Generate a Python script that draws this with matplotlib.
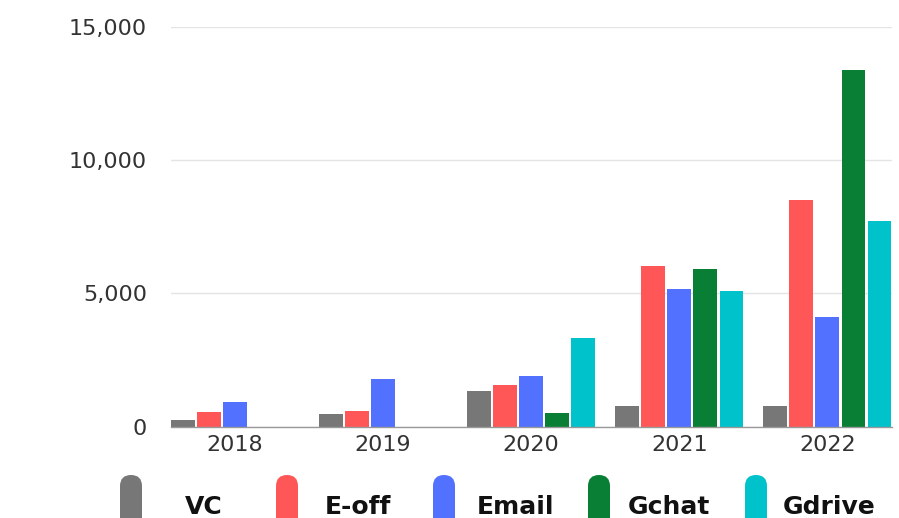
import matplotlib
matplotlib.use('Agg')
import matplotlib.pyplot as plt
from matplotlib.patches import FancyBboxPatch
from matplotlib.transforms import IdentityTransform
from matplotlib.ticker import FuncFormatter
import numpy as np

years = ['2018', '2019', '2020', '2021', '2022']
series = ['VC', 'E-off', 'Email', 'Gchat', 'Gdrive']
vc = [250, 465, 1350, 765, 790]
eoff = [540, 590, 1550, 6025, 8490]
email = [925, 1775, 1915, 5160, 4125]
gchat = [0, 0, 500, 5910, 13375]
gdrive = [0, 0, 3315, 5100, 7725]
colors = ['#777777', '#ff5757', '#5271ff', '#087f35', '#00c2cb']

W, H = 899, 518
fig = plt.figure(figsize=(W / 100, H / 100), dpi=100)
fig.patch.set_facecolor('white')
ax = fig.add_axes([170.7 / W, 1 - 426.7 / H, 721 / W, 400 / H])

x = np.arange(len(years))
slot = 0.176
for i, (vals, c) in enumerate(zip([vc, eoff, email, gchat, gdrive], colors)):
    ax.bar(x + (i - 2) * slot, vals, width=0.16, color=c, zorder=3)

ax.set_xlim(-0.435, 4.435)
ax.set_ylim(0, 15000)
ax.set_yticks([0, 5000, 10000, 15000])
ax.yaxis.set_major_formatter(FuncFormatter(lambda v, p: f'{int(v):,}'))
ax.set_xticks(x)
ax.set_xticklabels(years)
for s in ['top', 'right', 'left']:
    ax.spines[s].set_visible(False)
ax.spines['bottom'].set_color('#999999')
ax.spines['bottom'].set_linewidth(1.0)
ax.spines['bottom'].set_zorder(4)
ax.grid(axis='y', color='#e4e4e4', linewidth=1.0, zorder=0)
ax.tick_params(axis='y', length=0, pad=17, labelsize=16, labelcolor='#333333')
ax.tick_params(axis='x', length=0, pad=6, labelsize=16, labelcolor='#333333')

# legend, capsule markers along the bottom edge (pixel coords)
mark_x = [120, 276, 433, 588, 745]
text_x = [185, 325, 477, 628, 783]
for name, c, mx, tx in zip(series, colors, mark_x, text_x):
    p = FancyBboxPatch((mx, -30), 22, H - 475 + 30,
                       boxstyle='round,pad=0,rounding_size=11',
                       transform=IdentityTransform(), facecolor=c,
                       edgecolor='none')
    fig.patches.append(p)
    fig.text(tx / W, 1 - 507 / H, name, fontsize=18, fontweight='bold',
             color='#111111', ha='left', va='center')

fig.savefig('out.png', dpi=100, facecolor='white')
